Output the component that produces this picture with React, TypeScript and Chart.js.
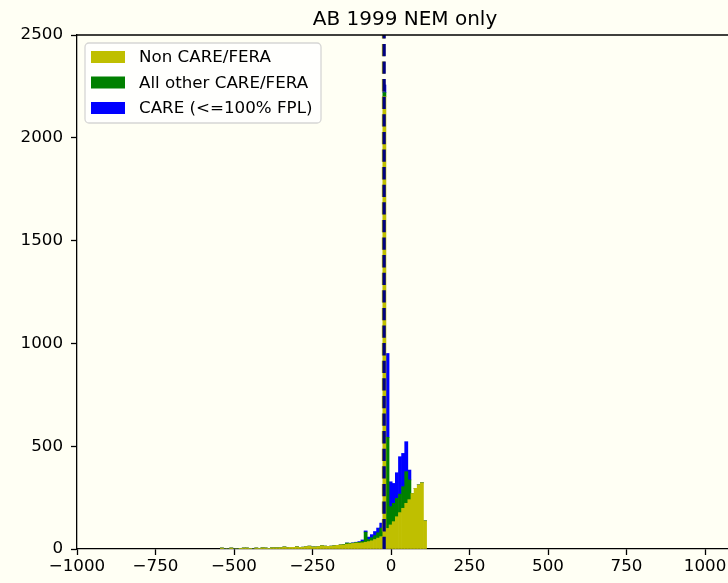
import React, { useEffect, useRef } from 'react';
import { Chart, registerables } from 'chart.js';

Chart.register(...registerables);

const TITLE = 'AB 1999 NEM only';
const SERIES_LABELS = ['Non CARE/FERA', 'All other CARE/FERA', 'CARE (<=100% FPL)'];
const SERIES_COLORS = ['#bfbf00', '#008000', '#0000ff'];
const BG = '#fffff4';

// histogram bins
const BIN_START = -543.5;
const BIN_WIDTH = 9.95;

const nonCare = [
  5, 0, 0, 5, 0, 0, 3, 5, 5, 2,
  0, 5, 3, 6, 5, 3, 6, 6, 6, 7,
  10, 7, 8, 8, 11, 8, 9, 12, 14, 10,
  10, 12, 16, 14, 13, 14, 16, 18, 20, 20,
  24, 25, 27, 29, 29, 30, 33, 36, 40, 46,
  53, 60, 2200, 100, 117, 133, 157, 177, 198, 222,
  240, 270, 295, 312, 322, 137,
];
const otherCare = [
  0, 0, 0, 0, 0, 0, 0, 0, 0, 0,
  0, 0, 0, 0, 0, 0, 0, 0, 0, 0,
  0, 0, 0, 0, 0, 0, 0, 0, 0, 0,
  0, 0, 0, 0, 0, 0, 0, 0, 0, 2,
  5, 3, 2, 3, 4, 7, 49, 10, 15, 19,
  26, 42, 20, 443, 89, 89, 89, 90, 105, 154,
  96, 0, 0, 0, 0, 0,
];
const care = [
  0, 0, 0, 0, 0, 0, 0, 0, 0, 0,
  0, 0, 0, 0, 0, 0, 0, 0, 0, 0,
  0, 0, 0, 0, 0, 0, 0, 0, 0, 0,
  0, 0, 0, 0, 0, 0, 0, 0, 0, 0,
  0, 0, 1, 1, 3, 7, 6, 12, 15, 20,
  23, 24, 37, 408, 121, 97, 125, 182, 162, 146,
  48, 0, 0, 0, 0, 0,
];

const MEAN_LINES = [
  { value: -24, color: '#bfbf00' },
  { value: -22, color: '#000080' },
];

const X_MIN = -1000;
const X_MAX = 1089;
const Y_MIN = 0;
const Y_MAX = 2500;
const X_TICKS = [-1000, -750, -500, -250, 0, 250, 500, 750, 1000];
const Y_TICKS = [0, 500, 1000, 1500, 2000, 2500];

const FONT = 'DejaVu Sans';

export default function App() {
  const ref = useRef<HTMLCanvasElement | null>(null);

  useEffect(() => {
    const canvas = ref.current;
    if (!canvas) return;
    const centers = nonCare.map((_, i) => BIN_START + (i + 0.5) * BIN_WIDTH);
    const seriesValues = [nonCare, otherCare, care];

    const bgPlugin = {
      id: 'bg',
      beforeDraw(chart: any) {
        const c = chart.ctx;
        c.save();
        c.fillStyle = BG;
        c.fillRect(0, 0, chart.width, chart.height);
        c.restore();
      },
    };

    const linesPlugin = {
      id: 'meanLines',
      afterDatasetsDraw(chart: any) {
        const c = chart.ctx;
        const a = chart.chartArea;
        const xs = chart.scales.x;
        c.save();
        c.beginPath();
        c.rect(a.left, a.top, a.right - a.left, a.bottom - a.top);
        c.clip();
        MEAN_LINES.forEach((l) => {
          const x = xs.getPixelForValue(l.value);
          c.beginPath();
          c.setLineDash([12.3, 5.3]);
          c.lineWidth = 3.3;
          c.strokeStyle = l.color;
          c.moveTo(x, a.bottom);
          c.lineTo(x, a.top);
          c.stroke();
        });
        c.restore();
      },
    };

    const decorPlugin = {
      id: 'decor',
      afterDraw(chart: any) {
        const c = chart.ctx;
        const a = chart.chartArea;
        c.save();
        c.strokeStyle = '#000';
        c.lineWidth = 1.3;
        c.beginPath();
        c.moveTo(a.left, a.top);
        c.lineTo(a.right, a.top);
        c.stroke();
        c.fillStyle = '#000';
        c.font = `20px "${FONT}"`;
        c.textAlign = 'center';
        c.textBaseline = 'alphabetic';
        c.fillText(TITLE, (a.left + a.right) / 2, a.top - 10);
        const lx = a.left + 8;
        const ly = a.top + 8;
        const lw = 236;
        const lh = 80;
        c.beginPath();
        c.roundRect(lx, ly, lw, lh, 4);
        c.fillStyle = 'rgba(255,255,255,0.8)';
        c.fill();
        c.strokeStyle = 'rgba(204,204,204,0.8)';
        c.lineWidth = 1.3;
        c.stroke();
        c.font = `16.7px "${FONT}"`;
        c.textAlign = 'left';
        c.textBaseline = 'middle';
        SERIES_LABELS.forEach((lab, i) => {
          const cy = ly + 14 + i * 25.5;
          c.fillStyle = SERIES_COLORS[i];
          c.fillRect(lx + 6, cy - 6, 34, 12);
          c.fillStyle = '#000';
          c.fillText(lab, lx + 54, cy + 1);
        });
        c.restore();
      },
    };

    const chart = new Chart(canvas, {
      type: 'bar',
      data: {
        datasets: SERIES_LABELS.map((lab, i) => ({
          label: lab,
          data: centers.map((x, j) => ({ x, y: seriesValues[i][j] })),
          backgroundColor: SERIES_COLORS[i],
          borderWidth: 0,
          barPercentage: 1,
          categoryPercentage: 1,
        })),
      },
      options: {
        animation: false,
        responsive: false,
        devicePixelRatio: 1,
        events: [],
        layout: { padding: { top: 35, right: 27, left: 0, bottom: 0 } },
        plugins: {
          legend: { display: false },
          title: { display: false },
          tooltip: { enabled: false },
        },
        scales: {
          x: {
            type: 'linear',
            stacked: true,
            offset: false,
            min: X_MIN,
            max: X_MAX,
            afterBuildTicks: (s: any) => {
              s.ticks = X_TICKS.map((v) => ({ value: v }));
            },
            afterFit: (s: any) => {
              s.height = 34;
            },
            grid: {
              display: true,
              offset: false,
              drawOnChartArea: false,
              drawTicks: true,
              tickLength: 6,
              tickWidth: 1.3,
              tickColor: '#000',
            },
            border: { display: true, color: '#000', width: 1.3 },
            ticks: {
              autoSkip: false,
              maxRotation: 0,
              padding: 2,
              color: '#000',
              font: { family: FONT, size: 16.7 },
              callback: (v: any) => (v < 0 ? '\u2212' + Math.abs(v) : String(v)),
            },
          },
          y: {
            type: 'linear',
            stacked: true,
            min: Y_MIN,
            max: Y_MAX,
            afterBuildTicks: (s: any) => {
              s.ticks = Y_TICKS.map((v) => ({ value: v }));
            },
            afterFit: (s: any) => {
              s.width = 77;
            },
            grid: {
              display: true,
              drawOnChartArea: false,
              drawTicks: true,
              tickLength: 6,
              tickWidth: 1.3,
              tickColor: '#000',
            },
            border: { display: true, color: '#000', width: 1.3 },
            ticks: {
              autoSkip: false,
              padding: 8,
              color: '#000',
              font: { family: FONT, size: 16.7 },
              callback: (v: any) => String(v),
            },
          },
        },
      },
      plugins: [bgPlugin, linesPlugin, decorPlugin],
    } as any);

    return () => chart.destroy();
  }, []);

  return (
    <div
      style={{
        position: 'absolute',
        left: 0,
        top: 0,
        width: 728,
        height: 583,
        overflow: 'hidden',
        background: BG,
      }}
    >
      <canvas ref={ref} width={760} height={583} style={{ width: 760, height: 583, display: 'block' }} />
    </div>
  );
}
